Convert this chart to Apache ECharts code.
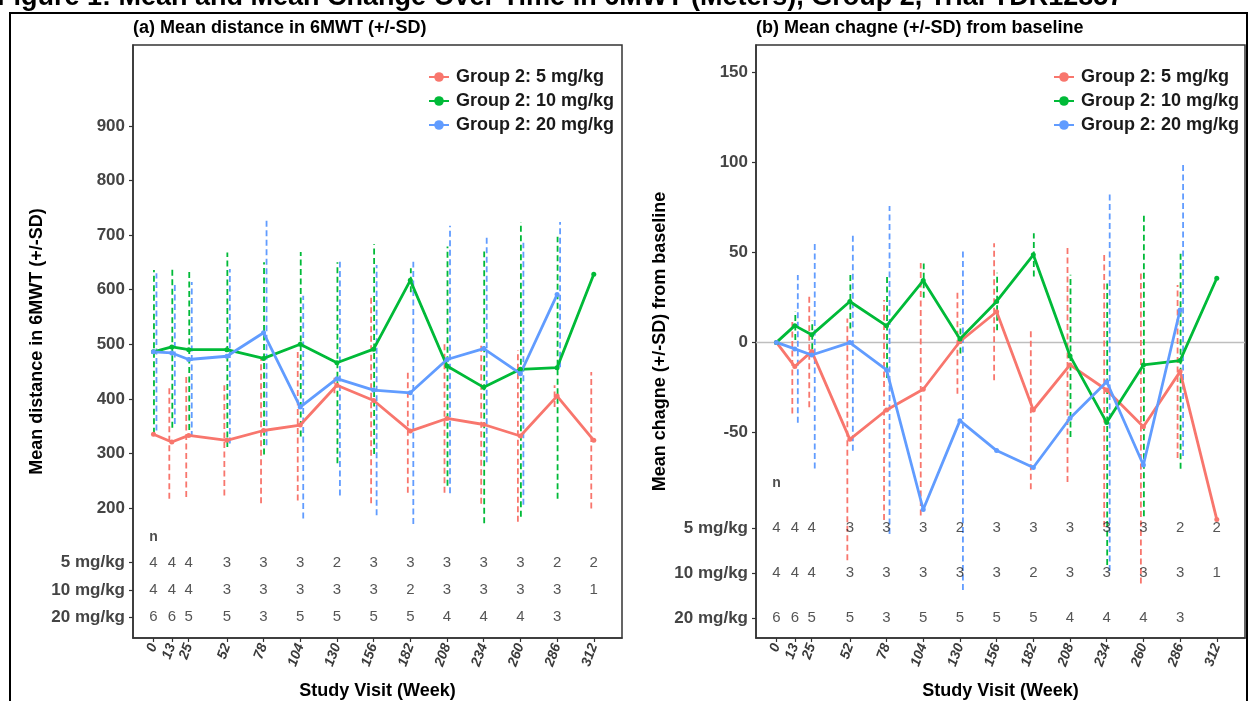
<!DOCTYPE html>
<html>
<head>
<meta charset="utf-8">
<script src="https://cdn.jsdelivr.net/npm/echarts@6/dist/echarts.min.js"></script>
<style>
  html, body { margin: 0; padding: 0; background: #fff; }
  #chart { width: 1250px; height: 701px; }
</style>
</head>
<body>
<div id="chart"></div>
<script>
// ---- Data -------------------------------------------------------------
const weeks = [0, 13, 25, 52, 78, 104, 130, 156, 182, 208, 234, 260, 286, 312];
const groups = ['Group 2: 5 mg/kg', 'Group 2: 10 mg/kg', 'Group 2: 20 mg/kg'];
const doseLabels = ['5 mg/kg', '10 mg/kg', '20 mg/kg'];

// (a) Mean 6MWT distance (m) and SD by visit
const mean5  = [335, 321, 333, 324, 342, 352, 425, 397, 341, 364, 353, 332, 405, 324];
const sd5    = [null, 104, 113, 101, 133, 138, 15, 188, 113, 136, 145, 157, 20, 125];
const mean10 = [486, 495, 490, 490, 474, 500, 466, 491, 617, 460, 421, 454, 457, 628];
const sd10   = [150, 148, 147, 178, 176, 169, 184, 192, 22, 219, 249, 270, 240, null];
const mean20 = [486, 484, 472, 478, 521, 385, 437, 416, 411, 472, 492, 446, 591, null];
const sd20   = [144, 130, 142, 160, 206, 204, 214, 229, 240, 245, 208, 240, 133, null];

// (b) Mean change from baseline and SD by visit
const chg5   = [0, -13.4, -5, -53.8, -37.5, -26, 0.5, 17, -37.5, -12.5, -26.4, -46.8, -16.2, -98.2];
const sdc5   = [null, 26, 31, 67, 61, 70, 29, 38, 44, 65, 76, 87, 48, null];
const chg10  = [0, 9.3, 4.2, 22.7, 9.2, 34.3, 1.9, 22.7, 48.6, -7.5, -44.5, -12.5, -10.1, 35.6];
const sdc10  = [null, 8, 8, 15, 29, 9.5, 8, 16, 12, 45, 79, 84, 60, null];
const chg20  = [0, -3.6, -7, -0.1, -15.3, -92.7, -43.4, -60, -69.4, -42.1, -21.8, -68, 18, null];
const sdc20  = [null, 41, 63, 60, 91, null, 94, null, null, null, 105, null, 81, null];

// Number of subjects per visit
const n5  = [4, 4, 4, 3, 3, 3, 2, 3, 3, 3, 3, 3, 2, 2];
const n10 = [4, 4, 4, 3, 3, 3, 3, 3, 2, 3, 3, 3, 3, 1];
const n20 = [6, 6, 5, 5, 3, 5, 5, 5, 5, 4, 4, 4, 3, null];

// ---- Layout & style ---------------------------------------------------
const FONT = '"Liberation Sans", Arial, Helvetica, sans-serif';
const COLORS = ['#F8766D', '#00BA38', '#619CFF'];
const BAR_DX = [-2.5, 0.5, 3];          // pixel dodge for the SD bars
const X_MIN = -14.5, X_MAX = 332;
const TABLE_A = { rows: [100, 50, 0], n: 146 };
const TABLE_B = { rows: [-103, -128, -153], n: -78 };
const AXIS_GREY = '#333';

const chart = echarts.init(document.getElementById('chart'), null, { renderer: 'canvas' });

function xAxis(gridIndex) {
  return {
    type: 'value', gridIndex, min: X_MIN, max: X_MAX,
    name: 'Study Visit (Week)', nameLocation: 'middle', nameGap: 44,
    nameTextStyle: { fontFamily: FONT, fontWeight: 'bold', fontSize: 18, color: '#000' },
    axisLine: { show: true, onZero: false, lineStyle: { color: AXIS_GREY, width: 1.5 } },
    axisTick: { show: true, customValues: weeks, length: 4, lineStyle: { color: AXIS_GREY, width: 1.2 } },
    axisLabel: { customValues: weeks, rotate: 70, margin: 6, fontFamily: FONT, fontSize: 14,
                 fontStyle: 'italic', fontWeight: 'bold', color: '#3a3a3a' },
    splitLine: { show: false }
  };
}

function yAxis(gridIndex, min, max, ticks, table, name) {
  const rowMap = {};
  table.rows.forEach((v, i) => { rowMap[v] = doseLabels[i]; });
  const values = table.rows.slice().reverse().concat(ticks);
  return {
    type: 'value', gridIndex, min, max,
    name, nameLocation: 'middle', nameRotate: 90, nameGap: 87,
    nameTextStyle: { fontFamily: FONT, fontWeight: 'bold', fontSize: 18, color: '#000' },
    axisLine: { show: true, onZero: false, lineStyle: { color: AXIS_GREY, width: 1.5 } },
    axisTick: { show: true, customValues: values, length: 4, lineStyle: { color: AXIS_GREY, width: 1.2 } },
    axisLabel: {
      customValues: values, margin: 8, fontFamily: FONT, fontWeight: 'bold', fontSize: 17, color: '#444',
      formatter: v => (rowMap[v] !== undefined ? rowMap[v] : String(v))
    },
    splitLine: { show: false }
  };
}

function lineSeries(idx, name, values, color) {
  return {
    type: 'line', name, xAxisIndex: idx, yAxisIndex: idx, z: 3,
    data: weeks.map((w, i) => [w, values[i]]).filter(d => d[1] != null),
    symbol: 'circle', symbolSize: 5, showSymbol: true,
    itemStyle: { color }, lineStyle: { color, width: 2.8 },
    silent: true
  };
}

function barSeries(idx, means, sds, color, dx) {
  const data = [];
  weeks.forEach((w, i) => {
    if (means[i] != null && sds[i] != null) data.push([w, means[i] - sds[i], means[i] + sds[i]]);
  });
  return {
    type: 'custom', xAxisIndex: idx, yAxisIndex: idx, z: 2, silent: true,
    itemStyle: { color },
    data,
    renderItem(params, api) {
      const lo = api.coord([api.value(0), api.value(1)]);
      const hi = api.coord([api.value(0), api.value(2)]);
      return {
        type: 'line',
        shape: { x1: lo[0] + dx, y1: lo[1], x2: hi[0] + dx, y2: hi[1] },
        style: { stroke: color, lineWidth: 1.8, lineDash: [6, 3.5] }
      };
    }
  };
}

function tableSeries(idx, table) {
  const data = [];
  [n5, n10, n20].forEach((arr, r) => arr.forEach((n, i) => {
    if (n != null) data.push([weeks[i], table.rows[r], n]);
  }));
  return [{
    type: 'scatter', xAxisIndex: idx, yAxisIndex: idx, z: 4, silent: true,
    symbolSize: 1, itemStyle: { color: 'rgba(0,0,0,0)' },
    data,
    label: { show: true, position: 'inside', formatter: p => String(p.value[2]),
             fontFamily: FONT, fontSize: 15, color: '#2a2a2a' }
  }, {
    type: 'scatter', xAxisIndex: idx, yAxisIndex: idx, z: 4, silent: true,
    symbolSize: 1, itemStyle: { color: 'rgba(0,0,0,0)' },
    data: [[weeks[0], table.n]],
    label: { show: true, position: 'inside', formatter: 'n',
             fontFamily: FONT, fontSize: 14, fontWeight: 'bold', color: '#222' }
  }];
}

function legend(left) {
  return {
    data: groups, left, top: 63, orient: 'vertical', itemGap: 6,
    itemWidth: 20, itemHeight: 12, selectedMode: false,
    textStyle: { fontFamily: FONT, fontSize: 18, fontWeight: 'bold', color: '#1a1a1a', padding: [0, 0, 0, 2] }
  };
}

const series = [
  // mean lines first so the legend takes their style
  lineSeries(0, groups[0], mean5, COLORS[0]),
  lineSeries(0, groups[1], mean10, COLORS[1]),
  lineSeries(0, groups[2], mean20, COLORS[2]),
  lineSeries(1, groups[0], chg5, COLORS[0]),
  lineSeries(1, groups[1], chg10, COLORS[1]),
  lineSeries(1, groups[2], chg20, COLORS[2]),
  // zero reference in (b)
  {
    type: 'line', xAxisIndex: 1, yAxisIndex: 1, z: 1, silent: true,
    data: [[X_MIN, 0], [X_MAX, 0]], symbol: 'none',
    itemStyle: { color: '#BEBEBE' }, lineStyle: { color: '#BEBEBE', width: 1.5 }
  },
  barSeries(0, mean5, sd5, COLORS[0], BAR_DX[0]),
  barSeries(0, mean10, sd10, COLORS[1], BAR_DX[1]),
  barSeries(0, mean20, sd20, COLORS[2], BAR_DX[2]),
  barSeries(1, chg5, sdc5, COLORS[0], BAR_DX[0]),
  barSeries(1, chg10, sdc10, COLORS[1], BAR_DX[1]),
  barSeries(1, chg20, sdc20, COLORS[2], BAR_DX[2]),
  ...tableSeries(0, TABLE_A),
  ...tableSeries(1, TABLE_B)
];

const gridBase = { top: 45, width: 489, height: 593, show: true, borderColor: AXIS_GREY, borderWidth: 1.5,
                   backgroundColor: 'transparent', containLabel: false, outerBoundsMode: 'none' };

const option = {
  animation: false,
  backgroundColor: '#fff',
  color: COLORS,
  grid: [
    Object.assign({ left: 133 }, gridBase),
    Object.assign({ left: 756 }, gridBase)
  ],
  xAxis: [xAxis(0), xAxis(1)],
  yAxis: [
    yAxis(0, -38, 1048, [200, 300, 400, 500, 600, 700, 800, 900], TABLE_A, 'Mean distance in 6MWT (+/-SD)'),
    yAxis(1, -164, 165, [-50, 0, 50, 100, 150], TABLE_B, 'Mean chagne (+/-SD) from baseline')
  ],
  legend: [legend(423), legend(1048)],
  series,
  graphic: [
    {
      type: 'text', x: -3, y: 11, silent: true,
      style: { text: 'Figure 1: Mean and Mean Change Over Time in 6MWT (Meters), Group 2, Trial TDR12857',
               fontFamily: FONT, fontWeight: 'bold', fontSize: 27, fill: '#000', align: 'left', verticalAlign: 'bottom' }
    },
    {
      type: 'rect', silent: true, z: 10,
      shape: { x: 10, y: 13, width: 1237, height: 700 },
      style: { fill: 'none', stroke: '#000', lineWidth: 2 }
    },
    {
      type: 'text', x: 133, y: 28, silent: true,
      style: { text: '(a) Mean distance in 6MWT (+/-SD)', fontFamily: FONT, fontWeight: 'bold', fontSize: 18,
               fill: '#000', align: 'left', verticalAlign: 'middle' }
    },
    {
      type: 'text', x: 756, y: 28, silent: true,
      style: { text: '(b) Mean chagne (+/-SD) from baseline', fontFamily: FONT, fontWeight: 'bold', fontSize: 18,
               fill: '#000', align: 'left', verticalAlign: 'middle' }
    }
  ]
};

chart.setOption(option);
</script>
</body>
</html>
